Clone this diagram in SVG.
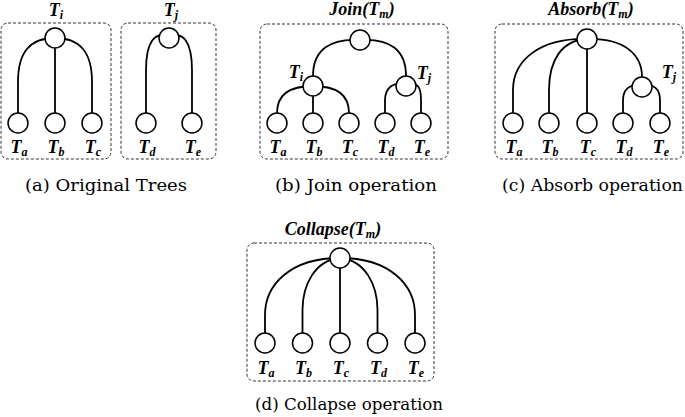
<svg xmlns="http://www.w3.org/2000/svg" width="685" height="417" viewBox="0 0 685 417">
<style>
.box{fill:none;stroke:#333;stroke-width:1;stroke-dasharray:3,2}
.e{fill:none;stroke:#000;stroke-width:1.8}
.n{fill:#fff;stroke:#000;stroke-width:1.5}
.lbl{font-family:"Liberation Serif",serif;font-weight:bold;font-style:italic;font-size:18px;fill:#000}
.sub{font-size:12px}
.cap{font-family:"DejaVu Serif",serif;font-size:17px;fill:#000}
</style>
<rect width="685" height="417" fill="#fff"/>
<rect class="box" x="1" y="23" width="110" height="136" rx="7"/>
<rect class="box" x="121" y="23" width="95" height="136" rx="7"/>
<rect class="box" x="260" y="24" width="188" height="135" rx="7"/>
<rect class="box" x="495" y="24" width="188" height="135" rx="7"/>
<rect class="box" x="247" y="243" width="187" height="138" rx="7"/>
<g id="connectors">
<path class="e" d="M55,38 C30,38 18,52 18,82 L18,113"/>
<path class="e" d="M55,38 L55,113"/>
<path class="e" d="M55,38 C80,38 92,52 92,82 L92,113"/>
<path class="e" d="M169,38 C155,30 146,42 146,70 L146,113"/>
<path class="e" d="M169,38 C183,30 192,42 192,70 L192,113"/>
<path class="e" d="M360,40 C330,38 313,50 313,76"/>
<path class="e" d="M360,40 C390,38 406,50 406,76"/>
<path class="e" d="M313,86 C288,86 277,96 277,113"/>
<path class="e" d="M313,86 L313,113"/>
<path class="e" d="M313,86 C338,86 349,96 349,113"/>
<path class="e" d="M406,86 C394,80 385,88 385,100 L385,113"/>
<path class="e" d="M406,86 C418,80 421,88 421,100 L421,113"/>
<path class="e" d="M587,39 C540,38 513,60 513,90 L513,113"/>
<path class="e" d="M587,39 C562,40 549,60 549,90 L549,113"/>
<path class="e" d="M587,39 L587,113"/>
<path class="e" d="M587,39 C625,38 642,55 642,77"/>
<path class="e" d="M642,87 C630,82 623,90 623,100 L623,113"/>
<path class="e" d="M642,87 C654,82 660,90 660,100 L660,113"/>
<path class="e" d="M340,258 C290,258 265,285 265,315 L265,333"/>
<path class="e" d="M340,258 C315,260 302.5,285 302.5,310 L302.5,333"/>
<path class="e" d="M340,258 L340,333"/>
<path class="e" d="M340,258 C365,260 377.5,285 377.5,310 L377.5,333"/>
<path class="e" d="M340,258 C390,258 415,285 415,315 L415,333"/>
</g>
<g id="a-Ti"><circle class="n" cx="55" cy="38" r="10"/><text class="lbl" x="56" y="16" text-anchor="middle">T<tspan class="sub" dy="3">i</tspan></text></g>
<g id="a-Ta"><circle class="n" cx="18" cy="123" r="10"/><text class="lbl" x="19" y="153" text-anchor="middle">T<tspan class="sub" dy="3">a</tspan></text></g>
<g id="a-Tb"><circle class="n" cx="55" cy="123" r="10"/><text class="lbl" x="56" y="153" text-anchor="middle">T<tspan class="sub" dy="3">b</tspan></text></g>
<g id="a-Tc"><circle class="n" cx="92" cy="123" r="10"/><text class="lbl" x="93" y="153" text-anchor="middle">T<tspan class="sub" dy="3">c</tspan></text></g>
<g id="a-Tj"><circle class="n" cx="169" cy="38" r="10"/><text class="lbl" x="171" y="16" text-anchor="middle">T<tspan class="sub" dy="3">j</tspan></text></g>
<g id="a-Td"><circle class="n" cx="146" cy="123" r="10"/><text class="lbl" x="147" y="153" text-anchor="middle">T<tspan class="sub" dy="3">d</tspan></text></g>
<g id="a-Te"><circle class="n" cx="192" cy="123" r="10"/><text class="lbl" x="193" y="153" text-anchor="middle">T<tspan class="sub" dy="3">e</tspan></text></g>
<g id="b-root"><circle class="n" cx="360" cy="40" r="10"/><text class="lbl" x="362" y="15" text-anchor="middle">Join(T<tspan class="sub" dy="3">m</tspan><tspan dy="-3">)</tspan></text></g>
<g id="b-Ti"><circle class="n" cx="313" cy="86" r="10"/><text class="lbl" x="296" y="78" text-anchor="middle">T<tspan class="sub" dy="3">i</tspan></text></g>
<g id="b-Tj"><circle class="n" cx="406" cy="86" r="10"/><text class="lbl" x="424" y="79" text-anchor="middle">T<tspan class="sub" dy="3">j</tspan></text></g>
<g id="b-Ta"><circle class="n" cx="277" cy="123" r="10"/><text class="lbl" x="278" y="153" text-anchor="middle">T<tspan class="sub" dy="3">a</tspan></text></g>
<g id="b-Tb"><circle class="n" cx="313" cy="123" r="10"/><text class="lbl" x="314" y="153" text-anchor="middle">T<tspan class="sub" dy="3">b</tspan></text></g>
<g id="b-Tc"><circle class="n" cx="349" cy="123" r="10"/><text class="lbl" x="350" y="153" text-anchor="middle">T<tspan class="sub" dy="3">c</tspan></text></g>
<g id="b-Td"><circle class="n" cx="385" cy="123" r="10"/><text class="lbl" x="386" y="153" text-anchor="middle">T<tspan class="sub" dy="3">d</tspan></text></g>
<g id="b-Te"><circle class="n" cx="421" cy="123" r="10"/><text class="lbl" x="422" y="153" text-anchor="middle">T<tspan class="sub" dy="3">e</tspan></text></g>
<g id="c-root"><circle class="n" cx="587" cy="39" r="10"/><text class="lbl" x="591" y="15" text-anchor="middle">Absorb(T<tspan class="sub" dy="3">m</tspan><tspan dy="-3">)</tspan></text></g>
<g id="c-Tj"><circle class="n" cx="642" cy="87" r="10"/><text class="lbl" x="669" y="78" text-anchor="middle">T<tspan class="sub" dy="3">j</tspan></text></g>
<g id="c-Ta"><circle class="n" cx="513" cy="123" r="10"/><text class="lbl" x="514" y="153" text-anchor="middle">T<tspan class="sub" dy="3">a</tspan></text></g>
<g id="c-Tb"><circle class="n" cx="549" cy="123" r="10"/><text class="lbl" x="550" y="153" text-anchor="middle">T<tspan class="sub" dy="3">b</tspan></text></g>
<g id="c-Tc"><circle class="n" cx="587" cy="123" r="10"/><text class="lbl" x="588" y="153" text-anchor="middle">T<tspan class="sub" dy="3">c</tspan></text></g>
<g id="c-Td"><circle class="n" cx="623" cy="123" r="10"/><text class="lbl" x="624" y="153" text-anchor="middle">T<tspan class="sub" dy="3">d</tspan></text></g>
<g id="c-Te"><circle class="n" cx="660" cy="123" r="10"/><text class="lbl" x="661" y="153" text-anchor="middle">T<tspan class="sub" dy="3">e</tspan></text></g>
<g id="d-root"><circle class="n" cx="340" cy="258" r="10"/><text class="lbl" x="333" y="235" text-anchor="middle">Collapse(T<tspan class="sub" dy="3">m</tspan><tspan dy="-3">)</tspan></text></g>
<g id="d-Ta"><circle class="n" cx="265" cy="343" r="10"/><text class="lbl" x="266" y="374" text-anchor="middle">T<tspan class="sub" dy="3">a</tspan></text></g>
<g id="d-Tb"><circle class="n" cx="302.5" cy="343" r="10"/><text class="lbl" x="303.5" y="374" text-anchor="middle">T<tspan class="sub" dy="3">b</tspan></text></g>
<g id="d-Tc"><circle class="n" cx="340" cy="343" r="10"/><text class="lbl" x="341" y="374" text-anchor="middle">T<tspan class="sub" dy="3">c</tspan></text></g>
<g id="d-Td"><circle class="n" cx="377.5" cy="343" r="10"/><text class="lbl" x="378.5" y="374" text-anchor="middle">T<tspan class="sub" dy="3">d</tspan></text></g>
<g id="d-Te"><circle class="n" cx="415" cy="343" r="10"/><text class="lbl" x="416" y="374" text-anchor="middle">T<tspan class="sub" dy="3">e</tspan></text></g>
<text class="cap" x="25" y="191" textLength="162" lengthAdjust="spacingAndGlyphs">(a) Original Trees</text>
<text class="cap" x="275" y="191" textLength="162" lengthAdjust="spacingAndGlyphs">(b) Join operation</text>
<text class="cap" x="502" y="191" textLength="181" lengthAdjust="spacingAndGlyphs">(c) Absorb operation</text>
<text class="cap" x="255" y="410" textLength="188" lengthAdjust="spacingAndGlyphs">(d) Collapse operation</text>
</svg>
